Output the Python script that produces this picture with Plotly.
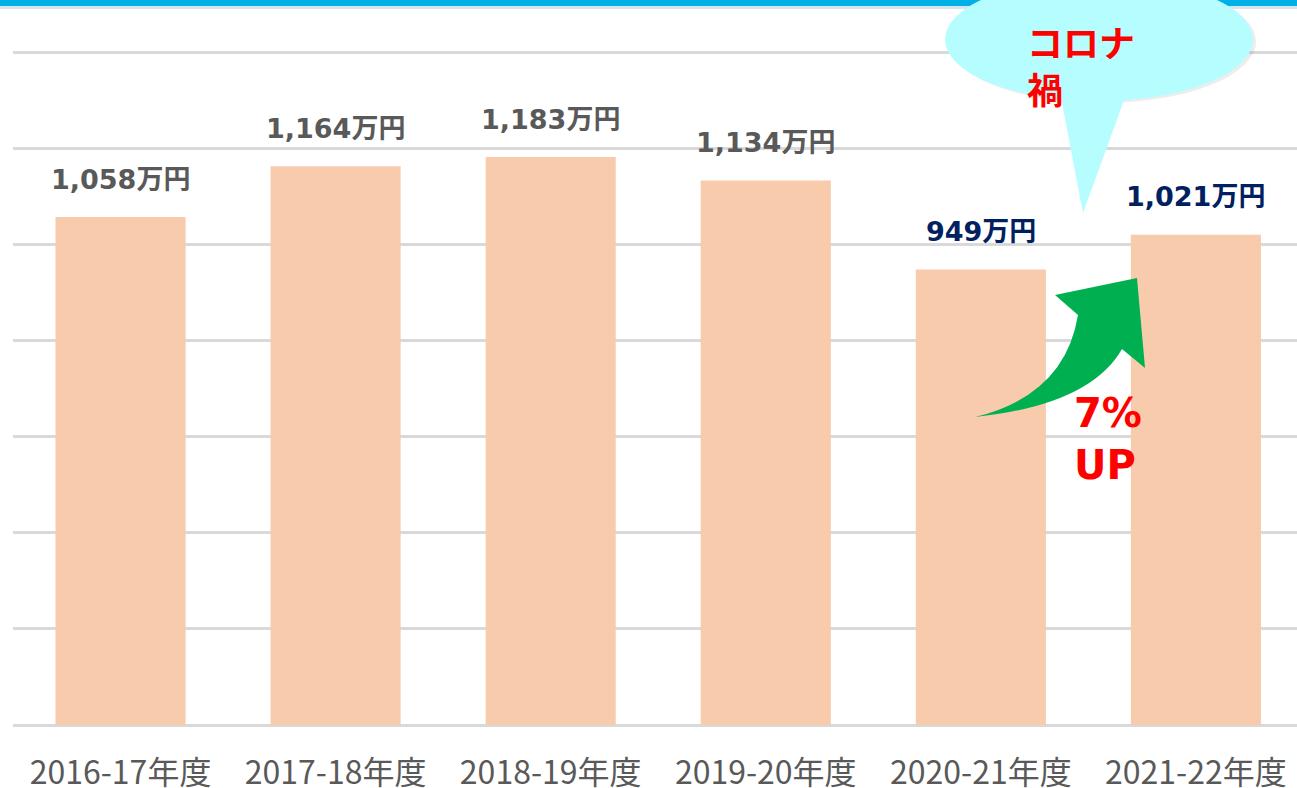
import plotly.graph_objects as go

categories = ["2016-17年度", "2017-18年度", "2018-19年度", "2019-20年度", "2020-21年度", "2021-22年度"]
values = [1058, 1164, 1183, 1134, 949, 1021]
value_labels = ["1,058万円", "1,164万円", "1,183万円", "1,134万円", "949万円", "1,021万円"]
label_colors = ["#595959", "#595959", "#595959", "#595959", "#002060", "#002060"]

W, H = 1297, 788
ML, MR, MT, MB = 13, 0, 51, 63
PW, PH = W - ML - MR, H - MT - MB
YMAX = 1404


def pp(X, Y):
    """pixel -> paper coordinates for decorations"""
    return (X - ML) / PW, (H - MB - Y) / PH


fig = go.Figure()
fig.add_trace(go.Bar(
    x=list(range(len(categories))), y=values,
    marker=dict(color="#F8CBAD", line=dict(width=0)),
    width=0.605, hoverinfo="skip",
))

annotations = []
for i, (v, t, c) in enumerate(zip(values, value_labels, label_colors)):
    annotations.append(dict(
        x=i, y=v, xref="x", yref="y", text=t, showarrow=False,
        yanchor="middle", yshift=38,
        font=dict(family="DejaVu Sans, Noto Sans CJK JP", size=27, color=c, weight="bold"),
    ))

shapes = []
# top blue band
x0, y0 = pp(0, 0)
x1, y1 = pp(W, 6)
shapes.append(dict(type="rect", xref="paper", yref="paper", x0=x0, x1=x1, y0=y1, y1=y0,
                   fillcolor="#00B0E6", line=dict(width=0), layer="above"))
x0, y0 = pp(0, 6)
x1, y1 = pp(W, 9)
shapes.append(dict(type="rect", xref="paper", yref="paper", x0=x0, x1=x1, y0=y1, y1=y0,
                   fillcolor="#D6E6EE", line=dict(width=0), layer="above"))

# callout bubble shadow
sx0, sy0 = pp(948, -20)
sx1, sy1 = pp(1256, 103)
shapes.append(dict(type="circle", xref="paper", yref="paper", x0=sx0, x1=sx1, y0=sy1, y1=sy0,
                   fillcolor="rgba(0,0,0,0.07)", line=dict(width=0), layer="above"))
# callout ellipse
ex0, ey0 = pp(945, -22)
ex1, ey1 = pp(1253, 101)
shapes.append(dict(type="circle", xref="paper", yref="paper", x0=ex0, x1=ex1, y0=ey1, y1=ey0,
                   fillcolor="#B5FDFF", line=dict(width=0), layer="above"))
# callout tail
a = pp(1060, 92)
b = pp(1083, 213)
c = pp(1127, 92)
shapes.append(dict(type="path", xref="paper", yref="paper",
                   path=f"M {a[0]},{a[1]} L {b[0]},{b[1]} L {c[0]},{c[1]} Z",
                   fillcolor="#B5FDFF", line=dict(width=0), layer="above"))

# green curved arrow
T = pp(975, 417)
C1 = pp(1065, 395)
A1 = pp(1078, 315)
B1 = pp(1055, 295)
P = pp(1137, 278)
B2 = pp(1145, 368)
A2 = pp(1122, 349)
C2 = pp(1090, 405)
arrow_path = (f"M {T[0]},{T[1]} Q {C1[0]},{C1[1]} {A1[0]},{A1[1]} "
              f"L {B1[0]},{B1[1]} L {P[0]},{P[1]} L {B2[0]},{B2[1]} L {A2[0]},{A2[1]} "
              f"Q {C2[0]},{C2[1]} {T[0]},{T[1]} Z")
shapes.append(dict(type="path", xref="paper", yref="paper", path=arrow_path,
                   fillcolor="#00B050", line=dict(width=0), layer="above"))

# callout text
tx, ty = pp(1025, 13)
annotations.append(dict(x=tx, y=ty, xref="paper", yref="paper", text="コロナ<br>禍",
                        showarrow=False, xanchor="left", yanchor="top", align="left",
                        font=dict(family="Noto Sans CJK JP", size=36, color="#FF0000", weight="bold")))
ux, uy = pp(1072, 388)
annotations.append(dict(x=ux, y=uy, xref="paper", yref="paper", text="7%<br>UP",
                        showarrow=False, xanchor="left", yanchor="top", align="left",
                        font=dict(family="DejaVu Sans", size=40, color="#FF0000", weight="bold")))

fig.update_layout(
    width=W, height=H,
    margin=dict(l=ML, r=MR, t=MT, b=MB, pad=0),
    paper_bgcolor="white", plot_bgcolor="white",
    showlegend=False,
    annotations=annotations, shapes=shapes,
    xaxis=dict(
        tickmode="array", tickvals=list(range(len(categories))), ticktext=categories,
        range=[-0.5, 5.47], showgrid=False, zeroline=False, showline=False, ticks="",
        tickfont=dict(family="Noto Sans CJK JP", size=32, color="#595959"),
        ticklabelstandoff=26, fixedrange=True, automargin=False,
    ),
    yaxis=dict(
        range=[0, YMAX], dtick=200, showgrid=True, gridcolor="#D9D9D9", gridwidth=3,
        zeroline=True, zerolinecolor="#D9D9D9", zerolinewidth=3,
        showticklabels=False, showline=False, ticks="", fixedrange=True, automargin=False,
    ),
)

fig.write_html("out.html", config={"displayModeBar": False},
               post_script="document.body.style.margin='0px';document.body.style.overflow='hidden';")
